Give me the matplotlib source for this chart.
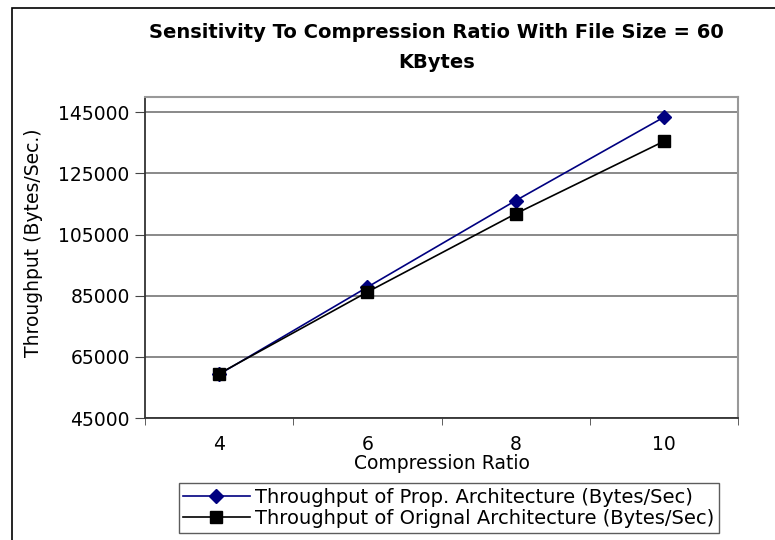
import matplotlib
matplotlib.use("Agg")
import matplotlib.pyplot as plt
from matplotlib.patches import Rectangle

plt.rcParams['font.family'] = ['DejaVu Sans']

categories = ["4", "6", "8", "10"]
prop_values = [59300, 87800, 116100, 143400]
orig_values = [59500, 86200, 111800, 135500]
y_ticks = [45000, 65000, 85000, 105000, 125000, 145000]
series_names = ["Throughput of Prop. Architecture (Bytes/Sec)",
                "Throughput of Orignal Architecture (Bytes/Sec)"]

fig = plt.figure(figsize=(7.75, 5.4), dpi=100)
# outer chart frame
fig.patches.append(Rectangle((12/775, -0.01), 1.0, 1 - 8/540 + 0.01,
                             transform=fig.transFigure, fill=False,
                             edgecolor='black', linewidth=1.2))

ax = fig.add_axes([145/775, (540-418)/540, (738-145)/775, (418-97)/540])
x = list(range(len(categories)))
ax.plot(x, prop_values, color='#000080', marker='D', markersize=7,
        linewidth=1.2, label=series_names[0], zorder=3)
ax.plot(x, orig_values, color='black', marker='s', markersize=8,
        linewidth=1.2, label=series_names[1], zorder=3)

ax.set_xlim(-0.5, len(categories) - 0.5)
ax.set_ylim(45000, 150000)
ax.set_yticks(y_ticks)
ax.set_yticklabels([str(v) for v in y_ticks], fontsize=13.5)
ax.set_xticks(x)
ax.set_xticklabels(categories, fontsize=13.5)
ax.tick_params(axis='x', which='major', length=0, pad=12)
ax.set_xticks([i - 0.5 for i in range(len(categories) + 1)], minor=True)
ax.tick_params(axis='x', which='minor', length=5, direction='out', color='#444444')
ax.tick_params(axis='y', length=7, direction='out', color='#444444', pad=4)
ax.yaxis.grid(True, color='#808080', linewidth=1.3)
ax.set_axisbelow(True)

for side in ['top', 'right']:
    ax.spines[side].set_color('#999999')
    ax.spines[side].set_linewidth(1.5)
for side in ['left', 'bottom']:
    ax.spines[side].set_color('#333333')
    ax.spines[side].set_linewidth(1.3)

ax.set_xlabel("Compression Ratio", fontsize=13.5, labelpad=0)
ax.set_ylabel("Throughput (Bytes/Sec.)", fontsize=13.5)
ax.yaxis.set_label_coords(-0.172, 0.545)

fig.text(0.563, 1 - 33/540, "Sensitivity To Compression Ratio With File Size = 60",
         fontsize=14, fontweight='bold', ha='center', va='center')
fig.text(0.563, 1 - 62/540, "KBytes",
         fontsize=14, fontweight='bold', ha='center', va='center')

leg = fig.legend(loc='center', bbox_to_anchor=(449/775, 1 - 508/540),
                 fontsize=14, frameon=True, fancybox=False, borderpad=0.25,
                 labelspacing=0.1, handlelength=3.4, handletextpad=0.3,
                 borderaxespad=0)
leg.get_frame().set_edgecolor('#333333')
leg.get_frame().set_linewidth(1.0)

fig.savefig("out.png", dpi=100)
